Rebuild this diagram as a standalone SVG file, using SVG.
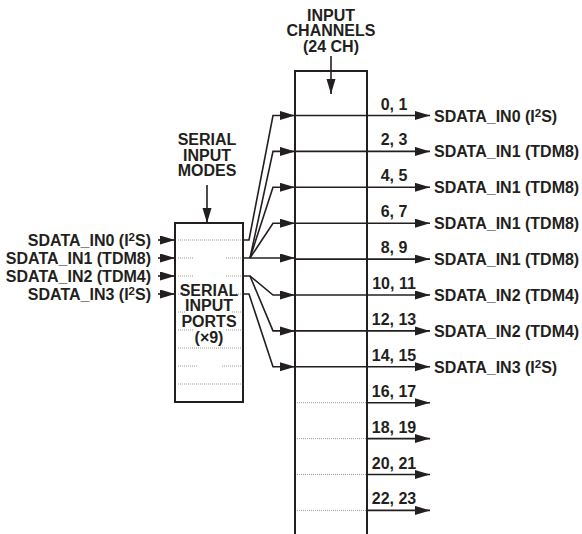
<svg xmlns="http://www.w3.org/2000/svg" width="582" height="534" viewBox="0 0 582 534">
<defs>
<style>
text{font-family:"Liberation Sans",Arial,sans-serif;font-weight:bold;font-size:16px;fill:#231f20}
.c{text-anchor:middle}
.e{text-anchor:end}
.box{fill:none;stroke:#231f20;stroke-width:2}
.ln{fill:none;stroke:#231f20;stroke-width:1.6}
.dot{fill:none;stroke:#9a9a9a;stroke-width:1;stroke-dasharray:1 1}
.arr{marker-end:url(#ah)}
.sup{font-size:11.5px}
</style>
<marker id="ah" markerUnits="userSpaceOnUse" markerWidth="16" markerHeight="10" refX="15" refY="4.5" orient="auto">
<path d="M0,0 L15,4.5 L0,9 z" fill="#231f20"/>
</marker>
</defs>
<rect width="582" height="534" fill="#fff"/>

<g id="channels-title">
<text class="c" x="331" y="20.5">INPUT</text>
<text class="c" x="331" y="36">CHANNELS</text>
<text class="c" x="331" y="51.5">(24 CH)</text>
</g>

<g id="modes-title">
<text class="c" x="207" y="145">SERIAL</text>
<text class="c" x="207" y="160.5">INPUT</text>
<text class="c" x="207" y="176">MODES</text>
</g>

<g id="serial-ports">
<rect class="box" x="175" y="223" width="68" height="179" fill="#fff"/>
<path class="dot" d="M178,240H242 M178,258H193 M226,258H242 M178,276H193 M226,276H242 M178,294H186 M236,294H242 M178,312H186 M232,312H242 M178,330H193 M226,330H242 M178,348H242 M178,366H198 M222,366H242 M178,384H242"/>
<text class="c" x="209" y="295.5">SERIAL</text>
<text class="c" x="209" y="311">INPUT</text>
<text class="c" x="209" y="327">PORTS</text>
<text class="c" x="209" y="342.5">(×9)</text>
</g>

<g id="input-channels">
<path class="box" d="M295,534V71H367V534"/>
<path class="dot" d="M297,402.7H366 M297,438.6H366 M297,474.5H366 M297,510.4H366"/>
</g>

<g id="left-labels">
<text class="e" x="151" y="246">SDATA_IN0 (I<tspan class="sup" dy="-5">2</tspan><tspan dy="5">S)</tspan></text>
<text class="e" x="151" y="264">SDATA_IN1 (TDM8)</text>
<text class="e" x="151" y="282">SDATA_IN2 (TDM4)</text>
<text class="e" x="151" y="300">SDATA_IN3 (I<tspan class="sup" dy="-5">2</tspan><tspan dy="5">S)</tspan></text>
</g>

<g id="channel-labels">
<text class="c" x="394" y="109.5">0, 1</text>
<text class="c" x="394" y="145.4">2, 3</text>
<text class="c" x="394" y="181.3">4, 5</text>
<text class="c" x="394" y="217.2">6, 7</text>
<text class="c" x="394" y="253.1">8, 9</text>
<text class="c" x="394" y="289">10, 11</text>
<text class="c" x="394" y="324.9">12, 13</text>
<text class="c" x="394" y="360.8">14, 15</text>
<text class="c" x="394" y="396.7">16, 17</text>
<text class="c" x="394" y="432.6">18, 19</text>
<text class="c" x="394" y="468.5">20, 21</text>
<text class="c" x="394" y="504.4">22, 23</text>
</g>

<g id="right-labels">
<text x="434" y="121.5">SDATA_IN0 (I<tspan class="sup" dy="-5">2</tspan><tspan dy="5">S)</tspan></text>
<text x="434" y="157.4">SDATA_IN1 (TDM8)</text>
<text x="434" y="193.3">SDATA_IN1 (TDM8)</text>
<text x="434" y="229.2">SDATA_IN1 (TDM8)</text>
<text x="434" y="265.1">SDATA_IN1 (TDM8)</text>
<text x="434" y="301">SDATA_IN2 (TDM4)</text>
<text x="434" y="336.9">SDATA_IN2 (TDM4)</text>
<text x="434" y="372.8">SDATA_IN3 (I<tspan class="sup" dy="-5">2</tspan><tspan dy="5">S)</tspan></text>
</g>

<g id="connectors">
<path class="ln arr" d="M331,56V94"/>
<path class="ln arr" d="M207,185V223"/>
<path class="ln arr" d="M158,240H175"/>
<path class="ln arr" d="M158,258H175"/>
<path class="ln arr" d="M158,276H175"/>
<path class="ln arr" d="M158,294H175"/>
<path class="ln arr" d="M243,240H249L273,115.5H295"/>
<path class="ln arr" d="M250,258L273,151.4H295"/>
<path class="ln arr" d="M250,258L273,187.3H295"/>
<path class="ln arr" d="M250,258L273,223.2H295"/>
<path class="ln arr" d="M243,258H295"/>
<path class="ln arr" d="M243,276H250L273,295H295"/>
<path class="ln arr" d="M250,276L273,330.9H295"/>
<path class="ln arr" d="M243,294H249L273,366.8H295"/>
<path class="ln arr" d="M295,115.5H430"/>
<path class="ln arr" d="M295,151.4H430"/>
<path class="ln arr" d="M295,187.3H430"/>
<path class="ln arr" d="M295,223.2H430"/>
<path class="ln arr" d="M295,259.1H430"/>
<path class="ln arr" d="M295,295H430"/>
<path class="ln arr" d="M295,330.9H430"/>
<path class="ln arr" d="M295,366.8H430"/>
<path class="ln arr" d="M367,402.7H430"/>
<path class="ln arr" d="M367,438.6H430"/>
<path class="ln arr" d="M367,474.5H430"/>
<path class="ln arr" d="M367,510.4H430"/>
</g>
</svg>
